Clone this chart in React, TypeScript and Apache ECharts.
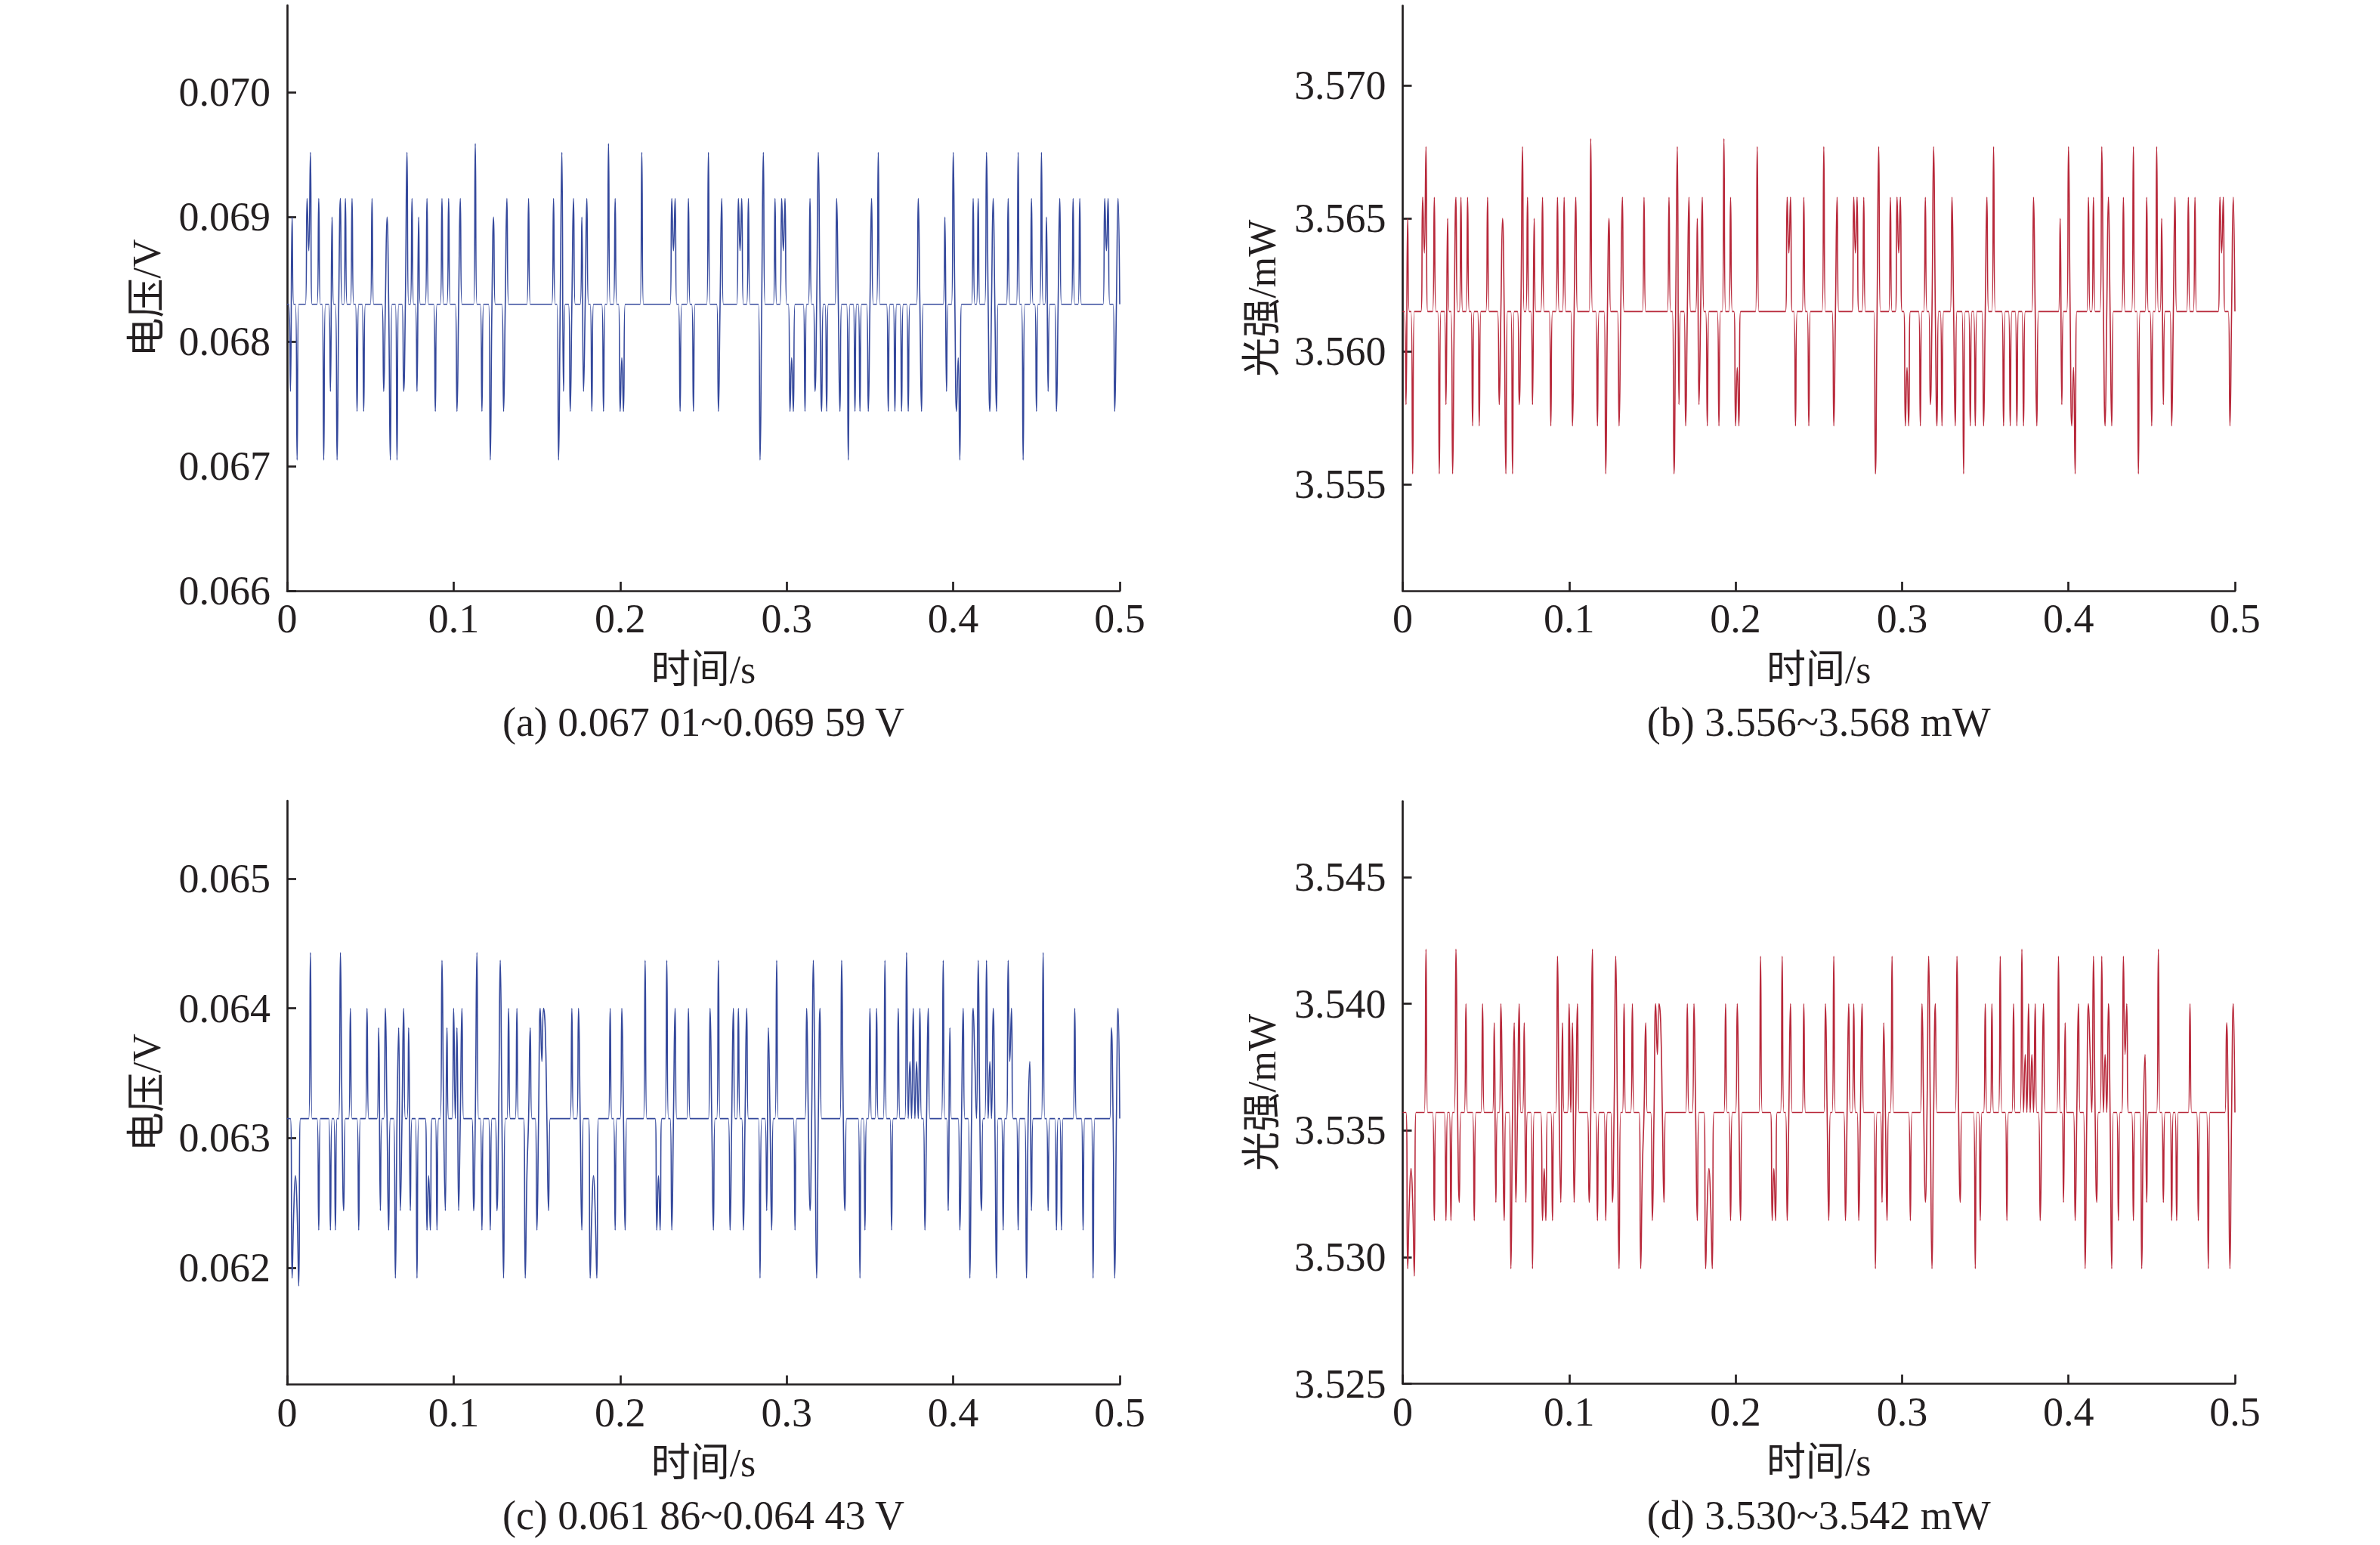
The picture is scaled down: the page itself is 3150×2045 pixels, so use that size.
import React, { useEffect, useRef } from "react";
import * as echarts from "echarts";

// ---------- data ----------
const TIME_STEP = 0.001; // s between samples
const SAMPLE_COUNT = 501; // 0 … 0.5 s

const xTicks = [0, 0.1, 0.2, 0.3, 0.4, 0.5];
const yTicksA = [0.066, 0.067, 0.068, 0.069, 0.07];
const yTicksB = [3.555, 3.56, 3.565, 3.57];
const yTicksC = [0.062, 0.063, 0.064, 0.065];
const yTicksD = [3.525, 3.53, 3.535, 3.54, 3.545];

// level codes used in the sample patterns below
const levelCodes = ["0", "1", "2", "3", "4", "5", "6", "a", "b", "c", "d", "e"];
// values of each level code, per panel
const levelsA = [0.0683, 0.06915, 0.06952, 0.06959, 0.069, 0.06873, 0.0685, 0.06744, 0.06705, 0.0676, 0.06787, 0.06701];
const levelsB = [3.5615, 3.5658, 3.5677, 3.568, 3.565, 3.5637, 3.5625, 3.5572, 3.5554, 3.558, 3.5594, 3.5552];
const levelsC = [0.06315, 0.064, 0.06443, 0.06437, 0.06385, 0.06321, 0.06359, 0.06229, 0.06192, 0.06244, 0.06271, 0.06186];
const levelsD = [3.53571, 3.54, 3.54216, 3.54188, 3.53925, 3.536, 3.538, 3.53144, 3.52954, 3.53216, 3.5335, 3.52925];

// sample index : level code (samples not listed sit on the base level "0")
const patternAB =
  "2:c 3:4 6:b 12:1 13:5 14:2 19:1 22:b 26:c 27:4 30:b 32:1 35:1 39:1 42:a 46:a 51:1 58:c 60:4 62:b 66:b 70:c 72:2 75:1 78:c 79:4 84:1 89:a 93:1 97:1 102:a 104:1 113:3 117:a 122:b 124:4 130:a 132:1 145:1 160:1 163:b 165:2 166:c 170:a 172:1 177:4 178:c 180:1 183:a 190:a 193:3 197:1 200:a 201:d 202:a 213:2 231:1 232:5 233:1 236:a 241:1 244:a 253:2 259:a 261:1 271:1 272:5 273:1 277:1 284:b 286:2 293:1 297:1 298:5 299:1 302:a 303:d 304:a 311:a 314:1 317:c 319:2 321:a 324:a 330:1 332:a 337:b 341:a 344:a 349:a 351:1 355:2 361:a 365:a 369:a 373:a 379:1 381:a 395:4 396:c 400:2 402:a 403:d 404:b 412:1 415:1 420:2 422:a 424:1 426:a 433:1 439:2 442:b 447:1 450:a 453:2 456:4 457:c 462:a 464:1 472:1 476:1 491:1 492:5 493:1 497:a 499:1";
const patternCD =
  "3:b 4:c 5:d 6:c 7:e 14:2 19:a 26:a 29:a 32:2 34:c 38:1 43:a 48:1 55:4 56:c 59:1 61:a 65:b 67:4 68:c 70:1 73:4 74:c 78:b 84:a 85:d 86:a 90:a 93:3 95:c 96:4 100:1 102:4 103:c 105:1 112:c 114:2 117:a 122:a 126:c 128:3 130:b 133:1 138:1 143:b 144:d 146:4 150:a 152:1 153:6 154:1 155:4 157:c 171:1 175:1 177:a 182:b 183:c 184:d 185:c 186:b 194:1 197:a 201:1 203:a 215:3 222:a 223:d 224:a 228:3 231:a 233:1 241:1 254:1 256:a 259:3 266:a 268:1 271:1 274:a 276:1 284:b 288:c 289:4 291:a 294:3 305:a 312:1 314:c 316:3 318:b 320:1 333:3 335:c 344:b 347:a 350:1 354:1 359:3 363:a 367:1 372:2 374:6 376:1 378:6 380:1 383:a 385:1 394:3 397:c 398:4 404:a 406:1 410:b 412:1 413:6 415:3 417:c 420:3 422:6 424:1 426:b 430:a 433:3 434:6 435:1 439:a 444:b 446:6 447:c 454:2 457:c 462:a 465:a 473:1 478:a 484:b 495:4 497:b 499:1";

const captions = ["(a) 0.067 01~0.069 59 V", "(b) 3.556~3.568 mW", "(c) 0.061 86~0.064 43 V", "(d) 3.530~3.542 mW"];
const yNames = ["电压/V", "光强/mW", "电压/V", "光强/mW"];
const xName = "时间/s";

// ---------- build ----------
function buildSeries(pattern: string, levels: number[]): [number, number][] {
  const pts: [number, number][] = [];
  for (let i = 0; i < SAMPLE_COUNT; i++) pts.push([+(i * TIME_STEP).toFixed(3), levels[0]]);
  pattern
    .trim()
    .split(/\s+/)
    .forEach((tok) => {
      const [idx, code] = tok.split(":");
      pts[+idx][1] = levels[levelCodes.indexOf(code)];
    });
  return pts;
}

const INK = "#231f20";
const FONT = '"Liberation Serif", "Times New Roman", "Noto Sans CJK SC", serif';
const BLUE = "#34489c";
const RED = "#b8283a";

const grids = [
  { left: 380, top: 7, width: 1102, height: 775 },
  { left: 1856.5, top: 7.5, width: 1101.5, height: 774.5 },
  { left: 380, top: 1060, width: 1102, height: 772.5 },
  { left: 1856.5, top: 1060.5, width: 1101.5, height: 771 },
];
const yRanges = [
  [0.066, 0.0707],
  [3.551, 3.573],
  [0.0611, 0.0656],
  [3.525, 3.548],
];
const yTicks = [yTicksA, yTicksB, yTicksC, yTicksD];

export default function App() {
  const ref = useRef<HTMLDivElement>(null);
  useEffect(() => {
    if (!ref.current) return;
    const chart = echarts.init(ref.current, null, { renderer: "svg" });
    const seriesData = [
      buildSeries(patternAB, levelsA),
      buildSeries(patternAB, levelsB),
      buildSeries(patternCD, levelsC),
      buildSeries(patternCD, levelsD),
    ];
    const colors = [BLUE, RED, BLUE, RED];
    const lineStyle = { color: INK, width: 2.7 };
    const option: any = {
      animation: false,
      backgroundColor: "#ffffff",
      grid: grids.map((g) => ({ ...g, containLabel: false, outerBoundsMode: "none" })),
      xAxis: grids.map((_, i) => ({
        type: "value",
        gridIndex: i,
        min: 0,
        max: 0.5,
        name: xName,
        nameLocation: "middle",
        nameGap: 78,
        nameMoveOverlap: false,
        nameTextStyle: { fontFamily: FONT, fontSize: 52, color: INK },
        axisLine: { show: true, onZero: false, lineStyle },
        axisTick: { show: true, inside: true, length: 12, lineStyle, customValues: xTicks },
        axisLabel: {
          customValues: xTicks,
          margin: 10,
          fontFamily: FONT,
          fontSize: 54,
          color: INK,
          formatter: (v: number) => (v === 0 ? "0" : String(Number(v.toFixed(1)))),
        },
        splitLine: { show: false },
      })),
      yAxis: grids.map((_, i) => ({
        type: "value",
        gridIndex: i,
        min: yRanges[i][0],
        max: yRanges[i][1],
        name: yNames[i],
        nameLocation: "middle",
        nameGap: 160,
        nameMoveOverlap: false,
        nameTextStyle: { fontFamily: FONT, fontSize: 52, color: INK },
        axisLine: { show: true, onZero: false, lineStyle },
        axisTick: { show: true, inside: true, length: 12, lineStyle, customValues: yTicks[i] },
        axisLabel: {
          customValues: yTicks[i],
          margin: 22,
          fontFamily: FONT,
          fontSize: 54,
          color: INK,
          formatter: (v: number) => v.toFixed(3),
        },
        splitLine: { show: false },
      })),
      series: seriesData.map((d, i) => ({
        type: "line",
        xAxisIndex: i,
        yAxisIndex: i,
        data: d,
        showSymbol: false,
        smooth: 0.5,
        lineStyle: { color: colors[i], width: 1.6 },
        silent: true,
      })),
      graphic: captions.map((t, i) => ({
        type: "text",
        x: grids[i].left + grids[i].width / 2,
        y: i < 2 ? 956 : 2006,
        style: {
          text: t,
          fontFamily: FONT,
          fontSize: 54,
          fill: INK,
          align: "center",
          verticalAlign: "middle",
        },
      })),
    };
    chart.setOption(option);
    return () => chart.dispose();
  }, []);
  return (
    <div
      ref={ref}
      style={{ position: "absolute", left: 0, top: 0, width: 3150, height: 2045, background: "#fff" }}
    />
  );
}
